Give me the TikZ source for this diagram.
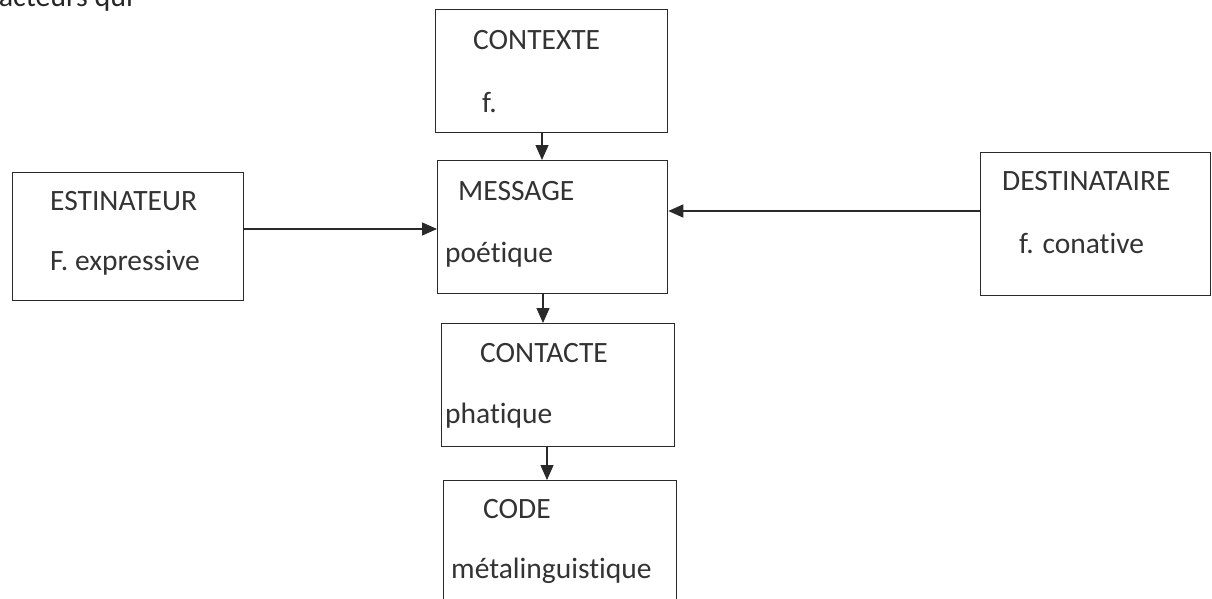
\documentclass[tikz,border=0pt]{standalone}
\usepackage{fontspec}
\setmainfont{Carlito}[Ligatures=NoCommon]
\usetikzlibrary{arrows.meta}
\definecolor{ink}{HTML}{333333}
\definecolor{lin}{HTML}{2A2A2A}
\begin{document}
\begin{tikzpicture}[x=1pt,y=-1pt,
  box/.style={draw=lin,line width=1.3pt,anchor=north west,inner sep=0pt,fill=none},
  lab/.style={anchor=base west,inner sep=0pt,text=ink,font=\fontsize{29.5}{32}\selectfont},
  conn/.style={draw=lin,line width=1.3pt,-{Triangle[length=15pt,width=13pt]}}]
\useasboundingbox (0,0) rectangle (1212,599);
\fill[white] (0,0) rectangle (1212,599);
% boxes
\node[box,minimum width=232pt,minimum height=123pt] (ctx) at (435,9) {};
\node[box,minimum width=230pt,minimum height=133pt] (msg) at (437,160) {};
\node[box,minimum width=231pt,minimum height=128pt] (emt) at (12,172) {};
\node[box,minimum width=230pt,minimum height=143pt] (dst) at (980,152) {};
\node[box,minimum width=233pt,minimum height=123pt] (cnt) at (441,323) {};
\node[box,minimum width=233pt,minimum height=130pt] (cod) at (443,480) {};
% texts
\node[lab,font=\fontsize{30}{32}\selectfont,text=black!85] (head) at (-10,7) {facteurs qui};
\node[lab] (ctxt) at (473,50) {CONTEXTE};
\node[lab] (ctxf) at (482,113) {f.};
\node[lab] (msgt) at (458,200) {MESSAGE};
\node[lab] (msgf) at (445,262) {poétique};
\node[lab] (emtt) at (50,210) {ESTINATEUR};
\node[lab] (emtf) at (50,270) {F. expressive};
\node[lab] (dstt) at (1002,190) {DESTINATAIRE};
\node[lab] (dstf) at (1019,253) {f. conative};
\node[lab] (cntt) at (480,362) {CONTACTE};
\node[lab] (cntf) at (445,423) {phatique};
\node[lab] (codt) at (483,518) {CODE};
\node[lab] (codf) at (451,578) {métalinguistique};
% connectors
\coordinate (a1) at (542,132);
\coordinate (a2) at (542,160);
\draw[conn] (ctx.south -| a1) -- (msg.north -| a2);
\coordinate (b1) at (0,229);
\draw[conn] (emt.east |- b1) -- (msg.west |- b1);
\coordinate (c1) at (0,211);
\draw[conn] (dst.west |- c1) -- (msg.east |- c1);
\coordinate (d1) at (543,0);
\draw[conn] (msg.south -| d1) -- (cnt.north -| d1);
\coordinate (e1) at (547,0);
\draw[conn] (cnt.south -| e1) -- (cod.north -| e1);
\end{tikzpicture}
\end{document}
